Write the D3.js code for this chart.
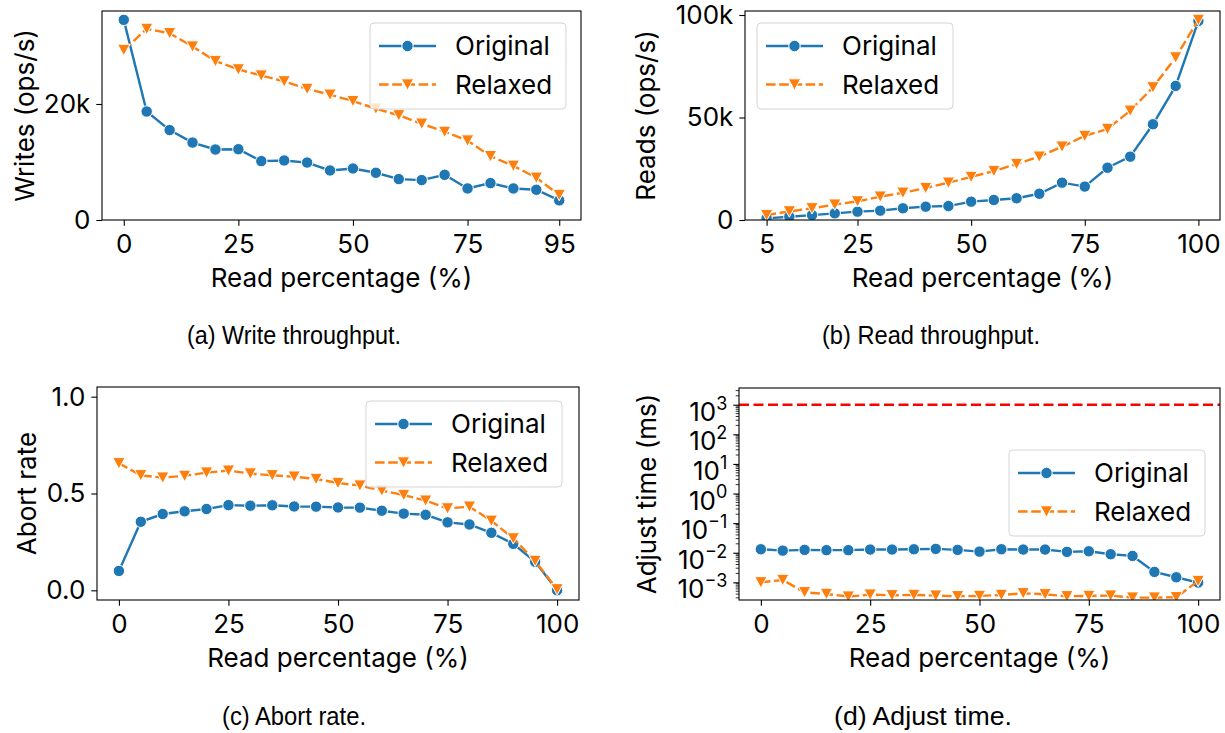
<!DOCTYPE html>
<html><head><meta charset="utf-8">
<script src="https://cdn.jsdelivr.net/npm/d3@7"></script>
<style>
html,body{margin:0;padding:0;background:#fff;}
svg{display:block;}
</style></head><body>
<svg id="chart" width="1225" height="733"></svg>
<script>
// ---- data ----
const seriesNames = ["Original", "Relaxed"];
const seriesColors = ["#1f77b4", "#ff7f0e"];

const readPctWrites = [0,5,10,15,20,25,30,35,40,45,50,55,60,65,70,75,80,85,90,95];
const writesOriginal = [34500,18700,15500,13350,12150,12200,10150,10260,9900,8540,8880,8140,7050,6880,7790,5440,6360,5440,5210,3380];
const writesRelaxed  = [29300,32950,32200,29900,27400,25960,24900,23900,22600,21600,20500,19200,18050,16600,15200,13700,11000,9340,7280,4300];

const readPctReads = [5,10,15,20,25,30,35,40,45,50,55,60,65,70,75,80,85,90,95,100];
const readsOriginal = [800,1600,2400,3250,4070,4550,5700,6500,6800,8940,9760,10600,12800,18200,16300,25500,30900,46700,65400,97100];
const readsRelaxed  = [2400,4200,5700,7500,9100,11400,13300,15600,18200,21000,23900,27300,30900,35800,41000,44400,53300,64700,79300,97600];

const readPctAll = [0,5,10,15,20,25,30,35,40,45,50,55,60,65,70,75,80,85,90,95,100];
const abortOriginal = [0.100,0.354,0.394,0.408,0.420,0.440,0.437,0.439,0.433,0.432,0.428,0.427,0.411,0.396,0.390,0.351,0.340,0.297,0.240,0.147,0.0];
const abortRelaxed  = [0.656,0.594,0.582,0.591,0.608,0.618,0.603,0.594,0.587,0.575,0.554,0.541,0.515,0.492,0.463,0.423,0.432,0.359,0.268,0.152,0.005];

const adjustOriginal = [0.0131,0.0118,0.0125,0.0122,0.0122,0.0128,0.0128,0.0131,0.0135,0.0125,0.0109,0.0131,0.0128,0.0128,0.0107,0.0112,0.0089,0.0078,0.00225,0.00148,0.00098];
const adjustRelaxed  = [0.00100,0.00120,0.000461,0.000405,0.000330,0.000385,0.000365,0.000375,0.000356,0.000338,0.000347,0.000375,0.000427,0.000395,0.000338,0.000347,0.000356,0.000305,0.000305,0.000313,0.00111];
const adjustLimitMs = 1000;

const xTicksWrites = [0,25,50,75,95];
const xTicksReads = [5,25,50,75,100];
const xTicksAll = [0,25,50,75,100];
const yTicksWrites = [0,20000];
const yTicksReads = [0,50000,100000];
const yTicksAbort = [0,0.5,1.0];
const yTicksAdjust = [1e-3,1e-2,1e-1,1e0,1e1,1e2,1e3];

const xLabel = "Read percentage (%)";
const captions = ["(a) Write throughput.", "(b) Read throughput.", "(c) Abort rate.", "(d) Adjust time."];

// ---- drawing ----
const FONT = "Inter, 'DejaVu Sans', sans-serif";
const FS = 26;          // label font size
const LW = 2.4;         // series line width
const TICK = 5.7;
const svg = d3.select("#chart");

function kFormat(v){ return v === 0 ? "0" : (v/1000) + "k"; }

function panel(opt){
  const g = svg.append("g");
  const x = d3.scaleLinear().domain(opt.xDomain).range([opt.left, opt.right]);
  const y = (opt.log ? d3.scaleLog() : d3.scaleLinear()).domain(opt.yDomain).range([opt.bottom, opt.top]);
  const clipId = "clip" + opt.id;
  svg.append("clipPath").attr("id", clipId).append("rect")
    .attr("x", opt.left).attr("y", opt.top)
    .attr("width", opt.right-opt.left).attr("height", opt.bottom-opt.top);

  // x axis
  const xa = g.append("g").attr("transform", `translate(0,${opt.bottom})`)
    .call(d3.axisBottom(x).tickValues(opt.xTicks).tickSize(TICK).tickPadding(9).tickSizeOuter(0));
  xa.select(".domain").remove();
  xa.selectAll("text").attr("font-size", FS).attr("font-family", FONT).attr("fill", "#000");
  xa.selectAll("line").attr("stroke", "#000").attr("stroke-width", 1.1);

  // y axis
  const ya = g.append("g").attr("transform", `translate(${opt.left},0)`)
    .call(d3.axisLeft(y).tickValues(opt.yTicks).tickSize(TICK).tickPadding(6).tickSizeOuter(0)
      .tickFormat(opt.yFormat || (d => d)));
  ya.select(".domain").remove();
  ya.selectAll("text").attr("font-size", FS).attr("font-family", FONT).attr("fill", "#000");
  ya.selectAll("line").attr("stroke", "#000").attr("stroke-width", 1.1);

  if (opt.log){
    // power-of-ten labels with superscript exponents
    ya.selectAll(".tick text").each(function(d){
      const t = d3.select(this);
      const e = Math.round(Math.log10(d));
      t.text(null).attr("dy", "0.6em");
      t.append("tspan").text("10");
      t.append("tspan").attr("dy", "-0.62em").attr("font-size", 18).text(String(e).replace("-", "\u2212"));
    });
    // minor ticks
    const [lo, hi] = y.domain();
    const minors = [];
    for (let e = -5; e <= 4; e++) for (let k = 2; k <= 9; k++){
      const v = k * Math.pow(10, e);
      if (v > lo && v < hi) minors.push(v);
    }
    g.append("g").selectAll("line").data(minors).join("line")
      .attr("x1", opt.left-3.3).attr("x2", opt.left)
      .attr("y1", d => y(d)).attr("y2", d => y(d))
      .attr("stroke", "#000").attr("stroke-width", 0.8);
  }

  // reference line
  if (opt.hline){
    g.append("line").attr("x1", opt.left).attr("x2", opt.right)
      .attr("y1", y(opt.hline)).attr("y2", y(opt.hline))
      .attr("stroke", "#ff0000").attr("stroke-width", LW).attr("stroke-dasharray", "10,4.5");
  }

  // series
  const plot = g.append("g").attr("clip-path", `url(#${clipId})`);
  opt.series.forEach((vals, i) => {
    const pts = opt.xs.map((xv, j) => [x(xv), y(vals[j])]);
    plot.append("path").attr("d", d3.line()(pts)).attr("fill", "none")
      .attr("stroke", seriesColors[i]).attr("stroke-width", LW)
      .attr("stroke-dasharray", i === 1 ? "9.6,3.6" : null);
    drawMarkers(plot, pts, i);
  });

  // frame
  g.append("rect").attr("x", opt.left).attr("y", opt.top)
    .attr("width", opt.right-opt.left).attr("height", opt.bottom-opt.top)
    .attr("fill", "none").attr("stroke", "#000").attr("stroke-width", 1.1);

  // axis titles
  g.append("text").attr("x", (opt.left+opt.right)/2).attr("y", opt.bottom+67)
    .attr("text-anchor", "middle").attr("font-size", FS).attr("font-family", FONT).text(xLabel);
  g.append("text").attr("transform", `translate(${opt.yLabelX},${(opt.top+opt.bottom)/2}) rotate(-90)`)
    .attr("text-anchor", "middle")
    .attr("font-size", FS).attr("font-family", FONT).text(opt.yLabel);

  // legend
  const L = opt.legend;
  const lg = g.append("g").attr("transform", `translate(${L[0]},${L[1]})`);
  lg.append("rect").attr("width", 196).attr("height", 86).attr("rx", 4)
    .attr("fill", "#fff").attr("fill-opacity", 0.8).attr("stroke", "#d5d5d5").attr("stroke-width", 1);
  seriesNames.forEach((name, i) => {
    const ry = 23 + i*38.5;
    lg.append("line").attr("x1", 9).attr("x2", 66).attr("y1", ry).attr("y2", ry)
      .attr("stroke", seriesColors[i]).attr("stroke-width", LW)
      .attr("stroke-dasharray", i === 1 ? "9.6,3.6" : null);
    drawMarkers(lg, [[37.5, ry]], i);
    lg.append("text").attr("x", 85).attr("y", ry).attr("dy", "0.36em")
      .attr("font-size", FS).attr("font-family", FONT).text(name);
  });
}

function drawMarkers(sel, pts, i){
  if (i === 0){
    sel.append("g").selectAll("circle").data(pts).join("circle")
      .attr("cx", d => d[0]).attr("cy", d => d[1]).attr("r", 5.7)
      .attr("fill", seriesColors[0]).attr("stroke", "#fff").attr("stroke-width", 1);
  } else {
    sel.append("g").selectAll("path").data(pts).join("path")
      .attr("d", d => `M${d[0]-6.2},${d[1]-5.7}L${d[0]+6.2},${d[1]-5.7}L${d[0]},${d[1]+5.7}Z`)
      .attr("fill", seriesColors[1]).attr("stroke", "#fff").attr("stroke-width", 1);
  }
}

panel({id:"a", left:102, right:581, top:11, bottom:220,
  xDomain:[-4.75, 99.75], yDomain:[0, 36030], xTicks:xTicksWrites, yTicks:yTicksWrites, yFormat:kFormat,
  xs:readPctWrites, series:[writesOriginal, writesRelaxed], yLabel:"Writes (ops/s)", yLabelX:34,
  legend:[370, 23]});

panel({id:"b", left:745, right:1220, top:11, bottom:220,
  xDomain:[0.25, 104.75], yDomain:[0, 101950], xTicks:xTicksReads, yTicks:yTicksReads, yFormat:kFormat,
  xs:readPctReads, series:[readsOriginal, readsRelaxed], yLabel:"Reads (ops/s)", yLabelX:655,
  legend:[757, 23]});

panel({id:"c", left:97, right:579, top:387, bottom:600,
  xDomain:[-5, 105], yDomain:[-0.05, 1.05], xTicks:xTicksAll, yTicks:yTicksAbort, yFormat:d3.format(".1f"),
  xs:readPctAll, series:[abortOriginal, abortRelaxed], yLabel:"Abort rate", yLabelX:36,
  legend:[366, 401]});

panel({id:"d", left:739, right:1220, top:388, bottom:600, log:true,
  xDomain:[-5, 105], yDomain:[Math.pow(10,-3.597), Math.pow(10,3.565)], xTicks:xTicksAll, yTicks:yTicksAdjust,
  xs:readPctAll, series:[adjustOriginal, adjustRelaxed], yLabel:"Adjust time (ms)", yLabelX:656,
  legend:[1009, 450], hline:adjustLimitMs});

// sub-figure captions
const capFont = "'Liberation Sans Narrow', 'Liberation Sans', sans-serif";
const capPos = [[187, 344, 214], [822, 344, 218], [222, 725, 144], [834, 725, 178]];
captions.forEach((c, i) => {
  svg.append("text").attr("x", capPos[i][0]).attr("y", capPos[i][1])
    .attr("font-size", 25).attr("font-family", capFont)
    .attr("textLength", capPos[i][2]).attr("lengthAdjust", "spacingAndGlyphs").text(c);
});
</script>
</body></html>
